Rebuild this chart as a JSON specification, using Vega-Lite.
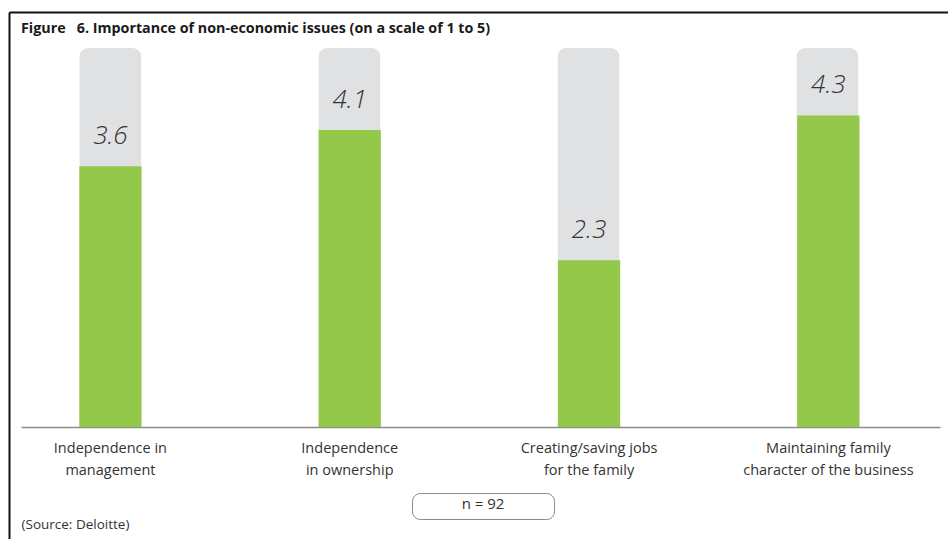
{
  "$schema": "https://vega.github.io/schema/vega-lite/v6.json",
  "padding": {"left": 9, "top": 12, "right": 0, "bottom": 0},
  "background": "white",
  "config": {"view": {"stroke": null}, "font": "Open Sans"},
  "width": 939,
  "height": 527,
  "title": {
    "text": "Figure\u00a0\u00a0\u00a06. Importance of non-economic issues (on a scale of 1 to 5)",
    "anchor": "start",
    "frame": "group",
    "orient": "top",
    "offset": 0,
    "baseline": "alphabetic",
    "dx": 12,
    "dy": 35,
    "fontSize": 14.3,
    "fontWeight": "bold",
    "color": "#1a1a1a",
    "font": "Open Sans"
  },
  "data": {
    "values": [
      {"category": "Independence in\nmanagement", "score": 3.6, "max": 5, "sample": "n = 92"},
      {"category": "Independence\nin ownership", "score": 4.1, "max": 5, "sample": "n = 92"},
      {"category": "Creating/saving jobs\nfor the family", "score": 2.3, "max": 5, "sample": "n = 92"},
      {"category": "Maintaining family\ncharacter of the business", "score": 4.3, "max": 5, "sample": "n = 92"}
    ]
  },
  "resolve": {"scale": {"x": "independent", "y": "independent"}},
  "layer": [
    {
      "mark": {"type": "bar", "color": "#e0e1e3", "cornerRadiusTopLeft": 9, "cornerRadiusTopRight": 9},
      "encoding": {
        "x": {
          "field": "category",
          "type": "nominal",
          "sort": null,
          "scale": {"paddingInner": 0.74, "paddingOuter": 0.334, "align": 0.44},
          "axis": {
            "orient": "top",
            "domainColor": "#111111",
            "domainWidth": 2,
            "ticks": false,
            "labels": false,
            "grid": false,
            "title": null
          }
        },
        "y": {
          "field": "max",
          "type": "quantitative",
          "scale": {"domain": [0, 5], "range": [415, 36], "nice": false, "zero": true},
          "axis": {
            "orient": "right",
            "domain": false,
            "ticks": false,
            "labels": false,
            "grid": false,
            "title": null
          }
        }
      }
    },
    {
      "encoding": {
        "x": {
          "field": "category",
          "type": "nominal",
          "sort": null,
          "scale": {"range": [12, 931], "paddingInner": 0.74, "paddingOuter": 0.29, "align": 0.42},
          "axis": {
            "orient": "bottom",
            "offset": -112,
            "title": "(Source: Deloitte)",
            "titleX": 12,
            "titleY": 97,
            "titleAnchor": "start",
            "titleAlign": "left",
            "titleBaseline": "middle",
            "titleFont": "Open Sans",
            "titleFontWeight": "normal",
            "titleFontSize": 13.5,
            "titleColor": "#333333",
            "domainColor": "#8c8c8c",
            "domainWidth": 1.5,
            "ticks": false,
            "grid": false,
            "labelAngle": 0,
            "labelFont": "Open Sans",
            "labelFontSize": 14.5,
            "labelColor": "#333333",
            "labelPadding": 14,
            "labelBaseline": "top",
            "labelLineHeight": 22,
            "labelExpr": "split(datum.label, '\\n')"
          }
        },
        "y": {
          "field": "score",
          "type": "quantitative",
          "scale": {"domain": [-1.5455, 5.727], "nice": false, "zero": false},
          "axis": {
            "orient": "left",
            "domainColor": "#111111",
            "domainWidth": 2,
            "ticks": false,
            "labels": false,
            "grid": false,
            "title": null
          }
        }
      },
      "layer": [
        {
          "mark": {"type": "bar"},
          "encoding": {
            "color": {
              "field": "sample",
              "type": "nominal",
              "scale": {"domain": ["n = 92"], "range": ["#93c84b"]},
              "legend": {
                "orient": "none",
                "legendX": 403,
                "legendY": 481,
                "title": "n = 92",
                "titleAnchor": "middle",
                "titleAlign": "center",
                "titleBaseline": "top",
                "titlePadding": 2,
                "titleFont": "Open Sans",
                "titleFontWeight": "normal",
                "titleFontSize": 15,
                "titleColor": "#333333",
                "symbolSize": 1,
                "symbolOffset": 133,
                "symbolOpacity": 0,
                "symbolStrokeWidth": 0,
                "labelOffset": 0,
                "labelFontSize": 1,
                "labelOpacity": 0,
                "labelExpr": "''",
                "strokeColor": "#8a8a8a",
                "cornerRadius": 8,
                "padding": 4
              }
            }
          }
        },
        {
          "mark": {
            "type": "text",
            "fontSize": 26,
            "fontStyle": "italic",
            "fontWeight": 300,
            "font": "Open Sans",
            "color": "#333333",
            "baseline": "alphabetic",
            "dy": -22
          },
          "encoding": {
            "text": {"field": "score", "type": "quantitative", "format": ".1f"}
          }
        }
      ]
    }
  ]
}
